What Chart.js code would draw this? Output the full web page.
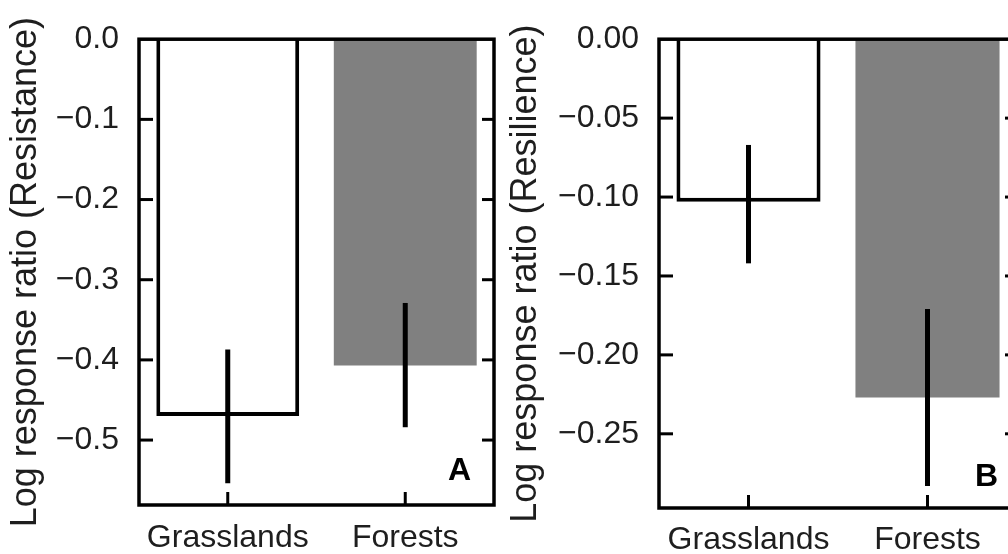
<!DOCTYPE html>
<html><head><meta charset="utf-8">
<script src="https://cdn.jsdelivr.net/npm/chart.js@4.4.1/dist/chart.umd.min.js"></script>
<style>
html,body{margin:0;padding:0;background:#fff;overflow:hidden;width:1008px;height:554px;}
#wrap{position:relative;width:1008px;height:554px;overflow:hidden;background:#fff;}
#cA{position:absolute;left:0;top:0;}
#cB{position:absolute;left:500px;top:0;}
</style></head><body>
<div id="wrap">
<canvas id="cA" width="500" height="554"></canvas>
<canvas id="cB" width="540" height="554"></canvas>
</div>
<script>
// ---- data ----
const categories = ['Grasslands', 'Forests'];

const resistanceMean = [-0.470, -0.407];
const resistanceErrHigh = [-0.387, -0.329];
const resistanceErrLow = [-0.554, -0.484];
const resistanceTicks = [0, -0.1, -0.2, -0.3, -0.4, -0.5];
const resistanceTickLabels = ['0.0', '\u22120.1', '\u22120.2', '\u22120.3', '\u22120.4', '\u22120.5'];

const resilienceMean = [-0.103, -0.227];
const resilienceErrHigh = [-0.067, -0.171];
const resilienceErrLow = [-0.142, -0.283];
const resilienceTicks = [0, -0.05, -0.10, -0.15, -0.20, -0.25];
const resilienceTickLabels = ['0.00', '\u22120.05', '\u22120.10', '\u22120.15', '\u22120.20', '\u22120.25'];

const FONT = '"Liberation Sans", Arial, Helvetica, sans-serif';
const TEXT = '#1e1e1e';

const framePlugin = {
  id: 'frame',
  afterDatasetsDraw(chart, args, opts) {
    const ctx = chart.ctx;
    const a = chart.chartArea;
    const xs = chart.scales.x, ys = chart.scales.y;
    const line = (x1, y1, x2, y2) => { ctx.beginPath(); ctx.moveTo(x1, y1); ctx.lineTo(x2, y2); ctx.stroke(); };
    ctx.save();
    ctx.strokeStyle = '#000';
    ctx.lineCap = 'butt';
    // error bars
    ctx.lineWidth = 5;
    opts.errHigh.forEach((hi, i) => {
      const x = xs.getPixelForValue(i);
      line(x, ys.getPixelForValue(hi), x, ys.getPixelForValue(opts.errLow[i]));
    });
    // frame
    ctx.lineWidth = 3.5;
    ctx.strokeRect(a.left, a.top, a.right - a.left, a.bottom - a.top);
    // inner ticks
    ctx.lineWidth = 3;
    ys.ticks.forEach((t, i) => {
      const y = ys.getPixelForTick(i);
      if (Math.abs(y - a.top) < 2) return;
      line(a.left, y, a.left + 14, y);
      line(a.right - 12, y, a.right, y);
    });
    xs.ticks.forEach((t, i) => {
      const x = xs.getPixelForTick(i);
      line(x, a.bottom, x, a.bottom - 13);
    });
    // panel letter
    ctx.font = 'bold 32px ' + FONT;
    ctx.fillStyle = '#000';
    ctx.textAlign = 'left';
    ctx.textBaseline = 'alphabetic';
    ctx.fillText(opts.letter, a.right - opts.letterDx, a.bottom - opts.letterDy);
    ctx.restore();
  }
};

function makeChart(id, means, errHigh, errLow, yMin, tickVals, tickLabels, title, geom) {
  return new Chart(document.getElementById(id), {
    type: 'bar',
    data: {
      labels: categories,
      datasets: [{
        data: means,
        backgroundColor: ['#ffffff', '#808080'],
        borderColor: ['#000000', '#808080'],
        borderWidth: [4, 0],
        barPercentage: 0.805,
        categoryPercentage: 1.0
      }]
    },
    options: {
      responsive: false,
      animation: false,
      events: [],
      layout: { padding: { left: 0, top: 35, right: geom.right, bottom: 0 } },
      plugins: {
        legend: { display: false },
        tooltip: { enabled: false },
        frame: { errHigh: errHigh, errLow: errLow, letter: geom.letter, letterDx: geom.letterDx, letterDy: geom.letterDy }
      },
      scales: {
        x: {
          type: 'category',
          offset: true,
          grid: { display: false, drawTicks: false },
          border: { display: false },
          ticks: { font: { family: FONT, size: 32 }, color: TEXT, padding: geom.xPad, maxRotation: 0, autoSkip: false },
          afterFit(s) { s.height = geom.xH; }
        },
        y: {
          min: yMin, max: 0,
          grid: { display: false, drawTicks: false },
          border: { display: false },
          afterBuildTicks(s) { s.ticks = tickVals.map(v => ({ value: v })); },
          ticks: { font: { family: FONT, size: 32 }, color: TEXT, padding: 20, callback: (v, i) => tickLabels[i] },
          title: { display: true, text: title, font: { family: FONT, size: 36 }, color: TEXT, padding: { top: 4, bottom: 0 } },
          afterFit(s) { s.width = geom.yW; }
        }
      }
    },
    plugins: [framePlugin]
  });
}

makeChart('cA', resistanceMean, resistanceErrHigh, resistanceErrLow, -0.581,
  resistanceTicks, resistanceTickLabels, 'Log response ratio (Resistance)',
  { right: 6, yW: 139, xH: 49, xPad: 14, letter: 'A', letterDx: 46, letterDy: 25 });

makeChart('cB', resilienceMean, resilienceErrHigh, resilienceErrLow, -0.297,
  resilienceTicks, resilienceTickLabels, 'Log response ratio (Resilience)',
  { right: 23, yW: 159, xH: 46, xPad: 13, letter: 'B', letterDx: 42, letterDy: 22 });
</script>
</body></html>
